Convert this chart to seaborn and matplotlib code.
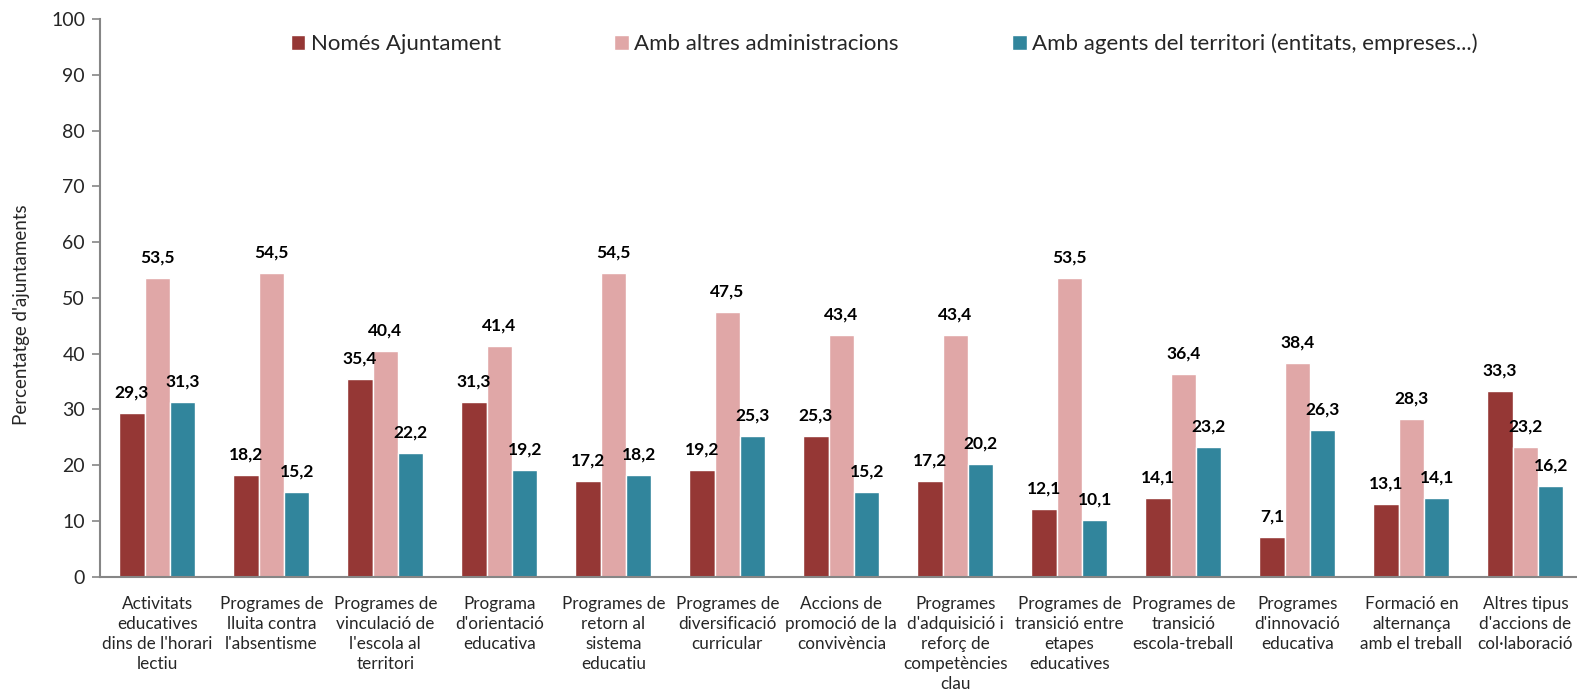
import matplotlib
matplotlib.use("Agg")
import matplotlib.pyplot as plt
import seaborn as sns
import pandas as pd

categories = [
    "Activitats\neducatives\ndins de l'horari\nlectiu",
    "Programes de\nlluita contra\nl'absentisme",
    "Programes de\nvinculació de\nl'escola al\nterritori",
    "Programa\nd'orientació\neducativa",
    "Programes de\nretorn al\nsistema\neducatiu",
    "Programes de\ndiversificació\ncurricular",
    "Accions de\npromoció de la\nconvivència",
    "Programes\nd'adquisició i\nreforç de\ncompetències\nclau",
    "Programes de\ntransició entre\netapes\neducatives",
    "Programes de\ntransició\nescola-treball",
    "Programes\nd'innovació\neducativa",
    "Formació en\nalternança\namb el treball",
    "Altres tipus\nd'accions de\ncol·laboració",
]
series = ["Només Ajuntament", "Amb altres administracions",
          "Amb agents del territori (entitats, empreses...)"]
nomes_ajuntament = [29.3, 18.2, 35.4, 31.3, 17.2, 19.2, 25.3, 17.2, 12.1, 14.1, 7.1, 13.1, 33.3]
altres_admin = [53.5, 54.5, 40.4, 41.4, 54.5, 47.5, 43.4, 43.4, 53.5, 36.4, 38.4, 28.3, 23.2]
agents_territori = [31.3, 15.2, 22.2, 19.2, 18.2, 25.3, 15.2, 20.2, 10.1, 23.2, 26.3, 14.1, 16.2]
colors = ["#953735", "#E0A7A7", "#31859C"]

rows = []
for s, vals in zip(series, [nomes_ajuntament, altres_admin, agents_territori]):
    for c, v in zip(categories, vals):
        rows.append({"cat": c, "serie": s, "val": v})
df = pd.DataFrame(rows)

sns.set_style("white")
plt.rcParams["font.family"] = ["Lato", "DejaVu Sans"]

fig = plt.figure(figsize=(15.77, 7.0), dpi=100)
ax = fig.add_axes([0.0636, 0.1761, 0.9398, 0.7967])

sns.barplot(data=df, x="cat", y="val", hue="serie", palette=colors,
            width=0.667, saturation=1, ax=ax, errorbar=None, legend=True)

for cont in ax.containers:
    ax.bar_label(cont, labels=[f"{b.get_height():.1f}".replace(".", ",") for b in cont],
                 padding=9, fontsize=12.5, fontweight="bold", color="black")

ax.set_ylim(0, 100)
ax.set_xlim(-0.5, len(categories) - 0.5)
ax.set_yticks(range(0, 101, 10))
ax.set_xlabel("")
ax.set_ylabel("Percentatge d'ajuntaments", fontsize=13.5)
ax.yaxis.set_label_coords(-0.0475, 0.47)
ax.tick_params(axis="y", labelsize=14, length=6, width=1.2, color="#868686", pad=5, left=True)
ax.tick_params(axis="x", labelsize=12.3, length=0, pad=14)
for lbl in ax.get_xticklabels():
    lbl.set_linespacing(1.3)

for sp in ["top", "right"]:
    ax.spines[sp].set_visible(False)
for sp in ["left", "bottom"]:
    ax.spines[sp].set_color("#868686")
    ax.spines[sp].set_linewidth(1.5)

leg = ax.legend(loc="center", bbox_to_anchor=(0.529, 0.955), ncol=3, frameon=False,
                fontsize=16, handlelength=0.65, handleheight=0.65, handletextpad=0.25,
                columnspacing=5.1)

fig.savefig("out.png", dpi=100)
